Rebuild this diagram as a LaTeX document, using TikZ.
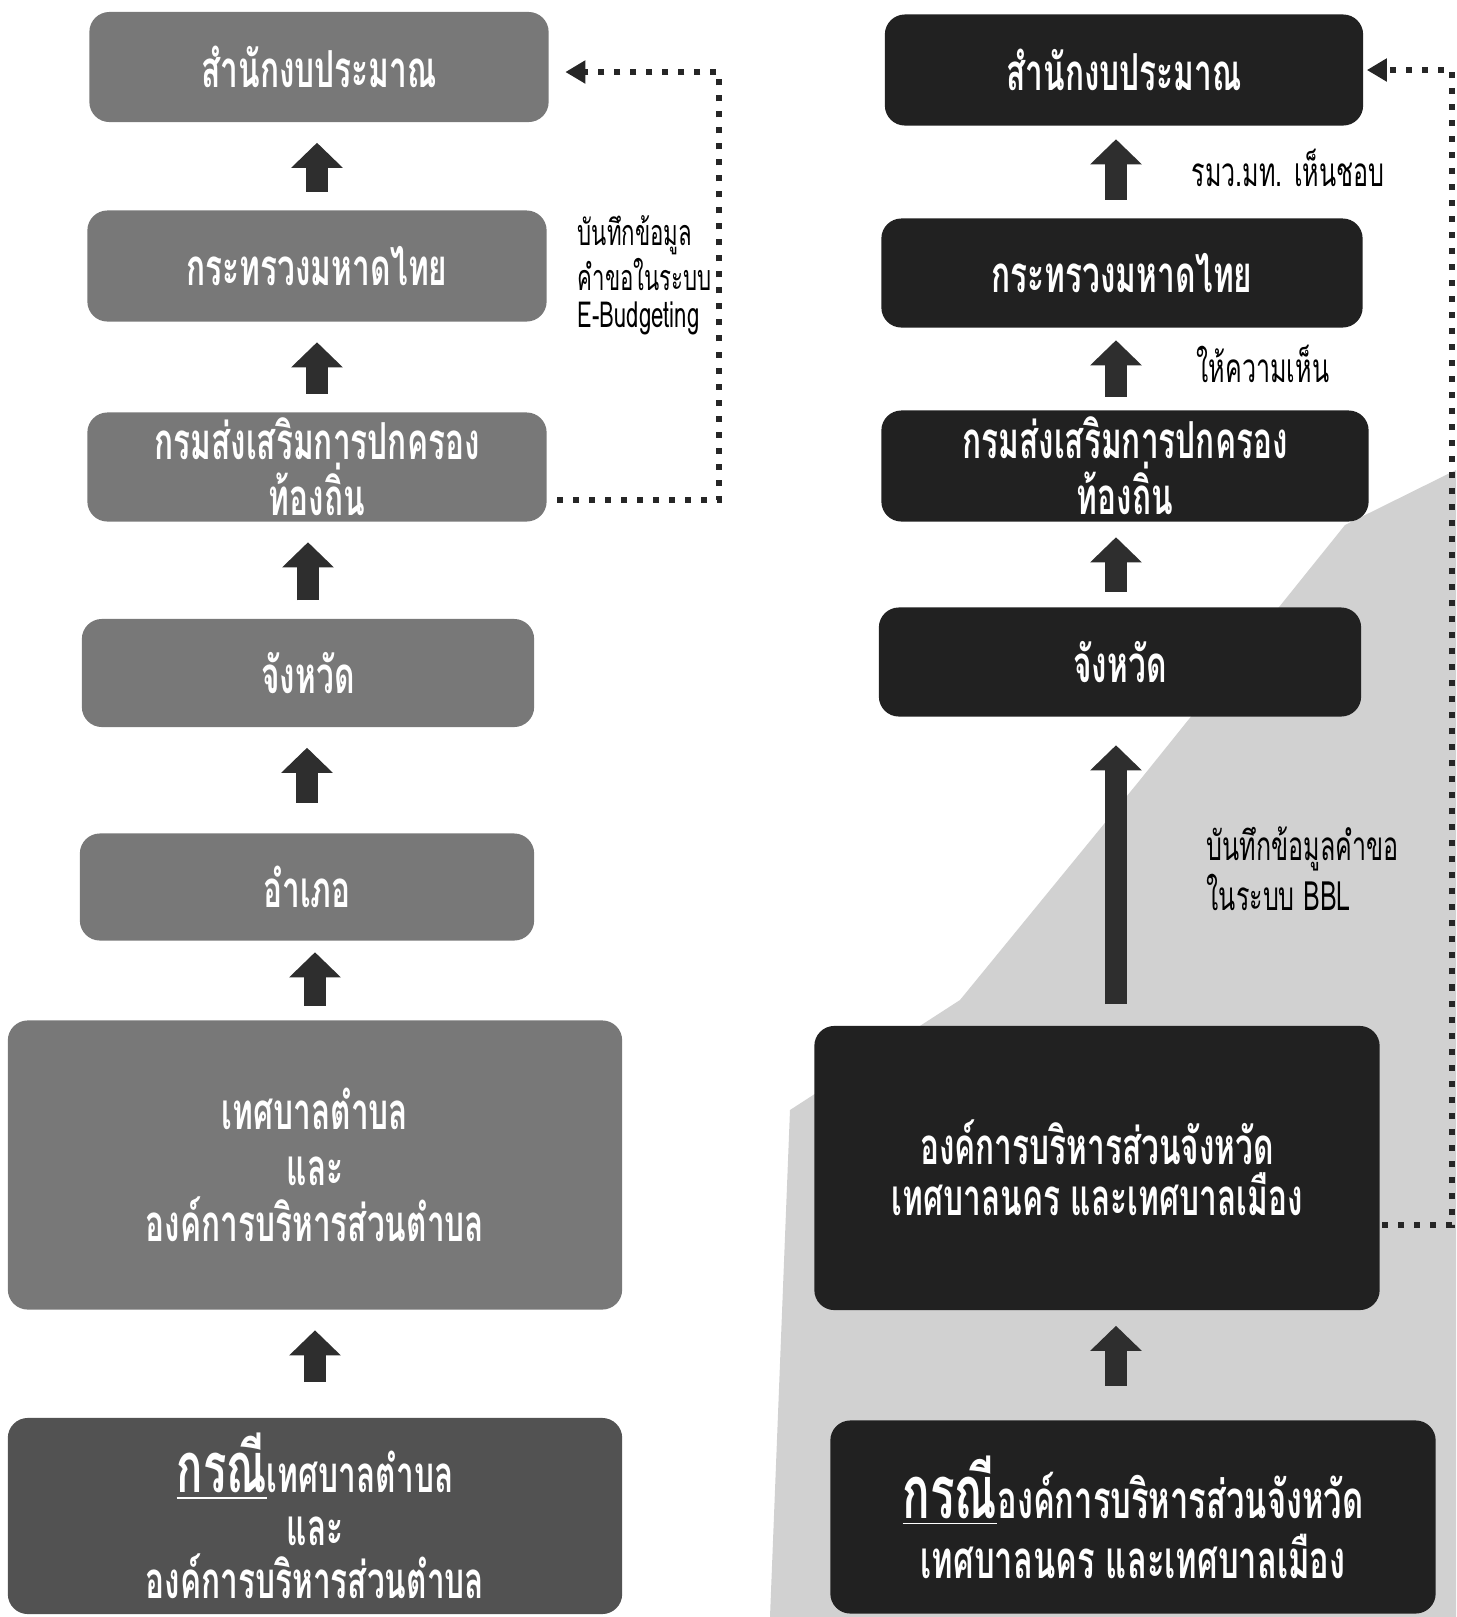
\documentclass[tikz,border=0pt]{standalone}
\usepackage{fontspec}
\newfontfamily\thaifont[Script=Thai,FakeStretch=0.62]{Loma}
\usetikzlibrary{arrows.meta}

\definecolor{boxgray}{gray}{0.47}
\definecolor{boxdark}{gray}{0.32}
\definecolor{boxblack}{gray}{0.13}
\definecolor{arrowgray}{gray}{0.18}
\definecolor{bggray}{gray}{0.82}

\tikzset{
  box/.style={rounded corners=0.2cm, align=center, text=white, inner sep=0pt,
    font=\thaifont\bfseries\fontsize{14.5}{14.5}\selectfont},
  lbox/.style={box, fill=boxgray},
  rbox/.style={box, fill=boxblack},
  up/.style={draw=arrowgray, line width=0.22cm, -{Triangle[width=0.5cm,length=0.25cm]},
    shorten <=0.18cm, shorten >=0.2cm},
  dots/.style={draw=black!85, line width=0.06cm, dash pattern=on 0.06cm off 0.1cm},
  note/.style={align=left, inner sep=0pt, font=\thaifont\fontsize{11.5}{11}\selectfont}
}

\begin{document}
\begin{tikzpicture}[x=0.01cm, y=-0.01cm]
	\useasboundingbox (0,0) rectangle (1456,1617);

	% grey band behind the right column
	\fill[bggray] (1456,470) -- (1345,525) -- (1140,780) -- (960,1000) -- (790,1110)
		-- (770,1617) -- (1456,1617) -- cycle;

	% left column
	\node[lbox, minimum width=4.59cm, minimum height=1.1cm] (l1) at (319,67) {สำนักงบประมาณ};
	\node[lbox, minimum width=4.59cm, minimum height=1.11cm] (l2) at (317,266) {กระทรวงมหาดไทย};
	\node[lbox, minimum width=4.59cm, minimum height=1.09cm] (l3) at (317,467) {กรมส่งเสริมการปกครอง\\ท้องถิ่น};
	\node[lbox, minimum width=4.52cm, minimum height=1.08cm] (l4) at (308,673) {จังหวัด};
	\node[lbox, minimum width=4.54cm, minimum height=1.07cm] (l5) at (307,887) {อำเภอ};
	\node[lbox, minimum width=6.14cm, minimum height=2.89cm,
		font=\thaifont\bfseries\fontsize{14.5}{16}\selectfont] (l6) at (315,1165) {เทศบาลตำบล\\และ\\องค์การบริหารส่วนตำบล};
	\node[lbox, fill=boxdark, minimum width=6.14cm, minimum height=1.96cm,
		font=\thaifont\bfseries\fontsize{14.5}{15}\selectfont] (l7) at (315,1516)
		{\underline{\fontsize{20}{15}\selectfont กรณี}เทศบาลตำบล\\และ\\องค์การบริหารส่วนตำบล};

	\draw[up] (l2.north) -- (l2.north |- l1.south);
	\draw[up] (l3.north) -- (l3.north |- l2.south);
	\draw[up] (l4.north) -- (l4.north |- l3.south);
	\draw[up, shorten <=0.3cm] (l5.north) -- (l5.north |- l4.south);
	\draw[up, shorten <=0.14cm, shorten >=0.11cm] (l6.north) -- (l6.north |- l5.south);
	\draw[up, shorten <=0.35cm] (l7.north) -- (l7.north |- l6.south);

	\coordinate (lturn) at (719,72);
	\draw[dots, -{Triangle[width=0.22cm,length=0.2cm]}] ([xshift=0.1cm, yshift=-0.33cm]l3.east) -| (lturn)
		-- ([xshift=0.16cm]l1.east |- lturn);
	\node[note, anchor=west, font=\thaifont\fontsize{10.2}{10.4}\selectfont] (lnote) at (577,275) {บันทึกข้อมูล\\คำขอในระบบ\\E-Budgeting};

	% right column
	\node[rbox, minimum width=4.78cm, minimum height=1.11cm] (r1) at (1124,70) {สำนักงบประมาณ};
	\node[rbox, minimum width=4.81cm, minimum height=1.09cm] (r2) at (1122,273) {กระทรวงมหาดไทย};
	\node[rbox, minimum width=4.87cm, minimum height=1.11cm] (r3) at (1125,466) {กรมส่งเสริมการปกครอง\\ท้องถิ่น};
	\node[rbox, minimum width=4.82cm, minimum height=1.09cm] (r4) at (1120,662) {จังหวัด};
	\node[rbox, minimum width=5.65cm, minimum height=2.84cm] (r5) at (1097,1168)
		{องค์การบริหารส่วนจังหวัด\\เทศบาลนคร และเทศบาลเมือง};
	\node[rbox, minimum width=6.05cm, minimum height=1.93cm,
		font=\thaifont\bfseries\fontsize{15}{17}\selectfont] (r6) at (1133,1517)
		{\underline{\fontsize{21}{17}\selectfont กรณี}องค์การบริหารส่วนจังหวัด\\เทศบาลนคร และเทศบาลเมือง};

	\draw[up, shorten >=0.13cm] (r2.north -| 1116,0) -- (r1.south -| 1116,0);
	\draw[up, shorten <=0.13cm, shorten >=0.12cm] (r3.north -| 1116,0) -- (r2.south -| 1116,0);
	\draw[up, shorten <=0.15cm, shorten >=0.15cm] (r4.north -| 1116,0) -- (r3.south -| 1116,0);
	\draw[up, shorten <=0.21cm, shorten >=0.28cm] (r5.north -| 1116,0) -- (r4.south -| 1116,0);
	\draw[up, shorten <=0.34cm, shorten >=0.15cm] (r6.north -| 1116,0) -- (r5.south -| 1116,0);

	\node[note, anchor=west] (rnote1) at (1191,168) {รมว.มท. เห็นชอบ};
	\node[note, anchor=west] (rnote2) at (1196,364) {ให้ความเห็น};
	\node[note, anchor=west] (rnote3) at (1206,869) {บันทึกข้อมูลคำขอ\\ในระบบ BBL};

	\coordinate (rturn) at (1452,70);
	\draw[dots, -{Triangle[width=0.22cm,length=0.2cm]}] ([xshift=0.02cm, yshift=-0.57cm]r5.east) -| (rturn)
		-- ([xshift=0.03cm]r1.east |- rturn);
\end{tikzpicture}
\end{document}
